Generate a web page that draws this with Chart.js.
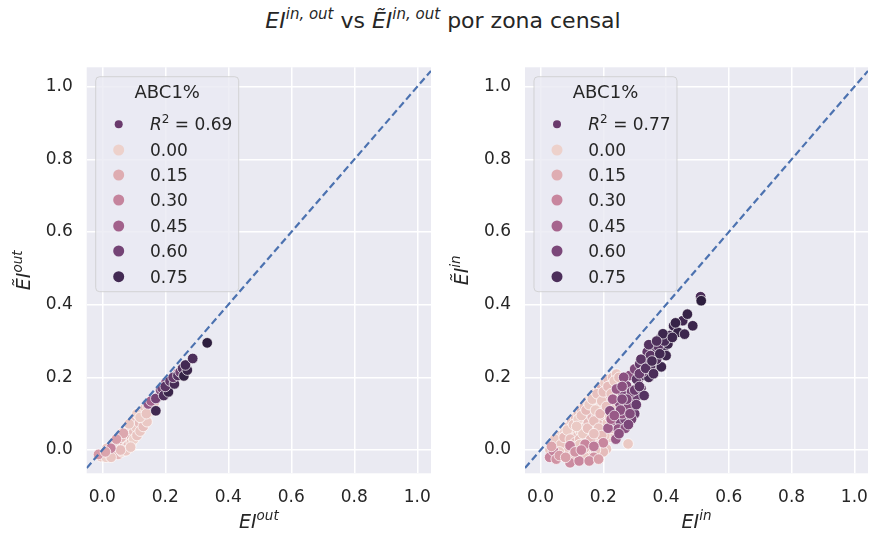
<!DOCTYPE html>
<html>
<head>
<meta charset="utf-8">
<script src="https://cdn.jsdelivr.net/npm/chart.js@4.4.1/dist/chart.umd.min.js"></script>
<style>
  body { margin: 0; background: #fff; width: 874px; height: 540px; position: relative; overflow: hidden;
         font-family: "DejaVu Sans", sans-serif; color: #262626; }
  #title { position: absolute; left: 6px; top: 8px; width: 874px; text-align: center; font-size: 22px; line-height: 26px; }
  #title sup { font-size: 15px; line-height: 0; vertical-align: 9px; }
  canvas { position: absolute; top: 0; }
</style>
</head>
<body>
<div id="title"><i>EI</i><sup><i>in, out</i></sup> vs <i>ẼI</i><sup><i>in, out</i></sup> por zona censal</div>
<canvas id="chartOut" width="437" height="540" style="left:0"></canvas>
<canvas id="chartIn" width="437" height="540" style="left:437px"></canvas>
<script>
// ---- data: [EI, EI tilde, ABC1 share] ----
const outPoints = [
  [0.098, 0.032, 0.5],
  [-0.005, -0.018, 0.05], [0.005, -0.012, 0.08], [0.012, -0.02, 0.03], [0.02, -0.008, 0.1], [0.025, 0.0, 0.06],
  [0.03, -0.015, 0.02], [0.035, 0.01, 0.07], [0.04, -0.005, 0.04], [0.045, 0.02, 0.09], [0.05, 0.005, 0.03],
  [0.05, -0.012, 0.11], [0.055, 0.03, 0.05], [0.06, 0.015, 0.08], [0.062, -0.005, 0.02], [0.068, 0.04, 0.06],
  [0.07, 0.022, 0.1], [0.072, 0.005, 0.04], [0.078, 0.05, 0.07], [0.08, 0.03, 0.03], [0.082, 0.012, 0.09],
  [0.088, 0.06, 0.05], [0.09, 0.04, 0.12], [0.092, 0.02, 0.06], [0.095, 0.072, 0.04], [0.1, 0.05, 0.08],
  [0.1, 0.03, 0.02], [0.105, 0.085, 0.1], [0.108, 0.062, 0.05], [0.11, 0.04, 0.07], [0.115, 0.095, 0.03],
  [0.118, 0.075, 0.09], [0.12, 0.052, 0.06], [0.125, 0.105, 0.11], [0.128, 0.085, 0.04], [0.13, 0.065, 0.08],
  [0.135, 0.115, 0.06], [0.138, 0.095, 0.12], [0.142, 0.078, 0.05], [0.145, 0.12, 0.09], [0.15, 0.105, 0.07],
  [0.155, 0.125, 0.1], [0.16, 0.112, 0.13], [0.165, 0.13, 0.08], [0.04, 0.025, 0.04], [0.065, 0.048, 0.1],
  [0.085, 0.072, 0.06], [0.11, 0.1, 0.03], [0.015, 0.005, 0.07], [0.075, -0.002, 0.05], [0.058, 0.0, 0.09],
  [0.028, -0.02, 0.06], [0.09, 0.008, 0.05], [0.12, 0.09, 0.04], [0.14, 0.1, 0.07], [0.06, 0.035, 0.11],
  [0.027, 0.005, 0.3], [-0.012, -0.012, 0.22], [0.067, 0.046, 0.17], [0.01, -0.005, 0.18], [0.045, 0.03, 0.2],
  [0.146, 0.127, 0.5], [0.155, 0.135, 0.45], [0.17, 0.142, 0.6], [0.185, 0.165, 0.55], [0.202, 0.185, 0.52],
  [0.19, 0.17, 0.6], [0.24, 0.212, 0.35], [0.25, 0.22, 0.4],
  [0.17, 0.108, 0.76], [0.195, 0.15, 0.72], [0.21, 0.16, 0.78], [0.2, 0.175, 0.68], [0.215, 0.19, 0.66],
  [0.229, 0.182, 0.74], [0.225, 0.2, 0.65], [0.24, 0.205, 0.7], [0.247, 0.215, 0.62], [0.255, 0.225, 0.7],
  [0.259, 0.204, 0.8], [0.27, 0.22, 0.78], [0.264, 0.234, 0.75], [0.287, 0.252, 0.72], [0.333, 0.295, 0.82]
];

const inPoints = [
  [0.152, 0.044, 0.5], [0.184, 0.021, 0.55], [0.163, 0.003, 0.5], [0.19, 0.035, 0.45], [0.14, 0.02, 0.48],
  [0.03, 0.0, 0.06], [0.04, 0.015, 0.1], [0.05, -0.01, 0.04], [0.055, 0.025, 0.08], [0.06, 0.005, 0.12],
  [0.065, 0.04, 0.05], [0.07, -0.015, 0.09], [0.072, 0.02, 0.03], [0.078, 0.05, 0.07], [0.08, 0.0, 0.11],
  [0.085, 0.032, 0.04], [0.09, 0.065, 0.08], [0.092, 0.012, 0.06], [0.095, -0.02, 0.1], [0.1, 0.045, 0.02],
  [0.1, 0.078, 0.07], [0.105, 0.025, 0.12], [0.11, 0.06, 0.05], [0.112, 0.09, 0.09], [0.115, 0.0, 0.03],
  [0.118, 0.038, 0.08], [0.12, 0.1, 0.06], [0.122, 0.072, 0.11], [0.125, -0.015, 0.07], [0.128, 0.05, 0.04],
  [0.13, 0.112, 0.09], [0.132, 0.085, 0.02], [0.135, 0.02, 0.1], [0.14, 0.06, 0.06], [0.14, 0.12, 0.08],
  [0.145, 0.095, 0.12], [0.148, 0.035, 0.05], [0.15, 0.135, 0.07], [0.152, 0.075, 0.1], [0.155, 0.005, 0.04],
  [0.158, 0.11, 0.09], [0.16, 0.05, 0.06], [0.162, 0.145, 0.03], [0.165, 0.09, 0.11], [0.168, 0.025, 0.08],
  [0.17, 0.125, 0.05], [0.172, 0.155, 0.1], [0.175, 0.065, 0.07], [0.178, 0.1, 0.13], [0.18, 0.04, 0.04],
  [0.182, 0.14, 0.09], [0.185, 0.165, 0.06], [0.188, 0.08, 0.1], [0.19, 0.118, 0.03], [0.192, 0.01, 0.08],
  [0.195, 0.175, 0.12], [0.198, 0.15, 0.05], [0.2, 0.055, 0.09], [0.2, 0.095, 0.06], [0.205, 0.13, 0.1],
  [0.205, 0.185, 0.04], [0.21, 0.003, 0.07], [0.21, 0.165, 0.11], [0.213, 0.075, 0.05], [0.215, 0.195, 0.08],
  [0.218, 0.11, 0.06], [0.22, 0.145, 0.1], [0.221, 0.035, 0.03], [0.225, 0.18, 0.07], [0.23, 0.2, 0.09],
  [0.232, 0.125, 0.05], [0.235, 0.16, 0.11], [0.242, 0.209, 0.06], [0.242, 0.154, 0.08], [0.248, 0.19, 0.04],
  [0.25, 0.175, 0.1], [0.279, 0.017, 0.05], [0.16, -0.02, 0.08], [0.185, -0.01, 0.05], [0.2, -0.005, 0.1],
  [0.14, -0.018, 0.06], [0.06, 0.03, 0.09], [0.08, 0.04, 0.03],
  [0.045, 0.03, 0.05], [0.065, 0.015, 0.07], [0.075, 0.035, 0.1], [0.085, 0.055, 0.04], [0.095, 0.03, 0.08],
  [0.105, 0.07, 0.06], [0.11, 0.02, 0.1], [0.12, 0.085, 0.03], [0.125, 0.03, 0.09], [0.13, 0.095, 0.07],
  [0.135, 0.045, 0.05], [0.145, 0.11, 0.1], [0.15, 0.06, 0.08], [0.155, 0.125, 0.04], [0.16, 0.03, 0.11],
  [0.165, 0.14, 0.06], [0.17, 0.08, 0.09], [0.175, 0.11, 0.05], [0.18, 0.155, 0.08], [0.185, 0.06, 0.07],
  [0.19, 0.1, 0.12], [0.195, 0.135, 0.06], [0.2, 0.16, 0.09], [0.205, 0.04, 0.05], [0.21, 0.12, 0.08],
  [0.215, 0.175, 0.1], [0.22, 0.09, 0.04], [0.225, 0.155, 0.07], [0.228, 0.06, 0.1], [0.235, 0.19, 0.05],
  [0.238, 0.1, 0.08], [0.245, 0.135, 0.06], [0.25, 0.2, 0.09], [0.252, 0.16, 0.07], [0.115, 0.065, 0.05],
  [0.09, 0.0, 0.07], [0.1, 0.01, 0.04], [0.14, 0.005, 0.09], [0.175, 0.0, 0.06], [0.195, 0.04, 0.1],
  [0.17, 0.045, 0.08], [0.06, -0.005, 0.05], [0.105, -0.012, 0.09], [0.125, 0.015, 0.05],
  [0.029, -0.02, 0.3], [0.041, -0.002, 0.32], [0.05, -0.025, 0.25], [0.06, -0.015, 0.22], [0.094, 0.012, 0.33],
  [0.094, -0.035, 0.28], [0.123, -0.03, 0.3], [0.08, -0.02, 0.2], [0.11, -0.005, 0.25], [0.142, 0.016, 0.3],
  [0.17, -0.02, 0.25], [0.035, 0.01, 0.18], [0.2, 0.02, 0.3], [0.13, 0.0, 0.3], [0.17, 0.01, 0.35],
  [0.155, -0.03, 0.27], [0.185, -0.025, 0.2],
  [0.231, 0.081, 0.5], [0.221, 0.108, 0.55], [0.253, 0.081, 0.58], [0.247, 0.058, 0.52], [0.269, 0.085, 0.6],
  [0.253, 0.127, 0.55], [0.263, 0.154, 0.6], [0.242, 0.168, 0.5], [0.274, 0.177, 0.58], [0.284, 0.205, 0.55],
  [0.3, 0.223, 0.6], [0.293, 0.136, 0.62], [0.306, 0.149, 0.65], [0.23, 0.14, 0.48], [0.26, 0.1, 0.52],
  [0.28, 0.12, 0.57], [0.24, 0.03, 0.5], [0.215, 0.06, 0.47], [0.27, 0.06, 0.55], [0.29, 0.16, 0.6],
  [0.31, 0.19, 0.62], [0.225, 0.085, 0.45], [0.265, 0.2, 0.55], [0.3, 0.1, 0.65], [0.29, 0.085, 0.62],
  [0.255, 0.11, 0.55], [0.275, 0.14, 0.6], [0.285, 0.1, 0.58], [0.26, 0.175, 0.55], [0.3, 0.165, 0.65],
  [0.25, 0.045, 0.55], [0.235, 0.095, 0.5], [0.28, 0.07, 0.6], [0.26, 0.14, 0.58], [0.305, 0.125, 0.66],
  [0.306, 0.195, 0.7], [0.332, 0.205, 0.75], [0.316, 0.237, 0.68], [0.337, 0.246, 0.72], [0.358, 0.255, 0.75],
  [0.364, 0.229, 0.78], [0.385, 0.229, 0.8], [0.364, 0.278, 0.72], [0.392, 0.273, 0.78], [0.38, 0.306, 0.75],
  [0.406, 0.292, 0.8], [0.411, 0.315, 0.78], [0.424, 0.342, 0.8], [0.438, 0.324, 0.82], [0.459, 0.319, 0.8],
  [0.453, 0.356, 0.78], [0.468, 0.374, 0.82], [0.485, 0.342, 0.8], [0.51, 0.422, 0.75], [0.512, 0.411, 0.85],
  [0.34, 0.27, 0.68], [0.35, 0.23, 0.74], [0.32, 0.17, 0.7], [0.33, 0.15, 0.72], [0.345, 0.2, 0.76],
  [0.37, 0.25, 0.74], [0.4, 0.26, 0.8], [0.375, 0.285, 0.7], [0.395, 0.3, 0.76], [0.325, 0.215, 0.65],
  [0.35, 0.26, 0.7], [0.315, 0.21, 0.66], [0.32, 0.25, 0.7], [0.335, 0.225, 0.72], [0.355, 0.245, 0.76],
  [0.36, 0.21, 0.75], [0.345, 0.29, 0.72], [0.38, 0.265, 0.78], [0.39, 0.32, 0.8], [0.42, 0.31, 0.8],
  [0.43, 0.35, 0.82], [0.37, 0.3, 0.74], [0.315, 0.175, 0.7]
];

const tickValues = [0, 0.2, 0.4, 0.6, 0.8, 1.0];
const hueLevels = [0.0, 0.15, 0.30, 0.45, 0.60, 0.75];
const r2Values = [0.69, 0.77];

// seaborn's default sequential cubehelix (light -> dark)
function cubehelix(t) {
  t = Math.min(1, Math.max(0, t));
  const x = 0.85 - 0.7 * t;
  const a = 0.8 * x * (1 - x) / 2;
  const phi = 2 * Math.PI * 0.4 * x;
  const c = Math.cos(phi), s = Math.sin(phi);
  const ch = v => Math.round(255 * Math.min(1, Math.max(0, v)));
  const r = x + a * (-0.14861 * c + 1.78277 * s);
  const g = x + a * (-0.29227 * c - 0.90649 * s);
  const b = x + a * (1.97294 * c);
  return `rgb(${ch(r)},${ch(g)},${ch(b)})`;
}

const XMIN = -0.0495, XMAX = 1.0435, YMIN = -0.064, YMAX = 1.0534;
const TEXT = '#262626';

function mathText(ctx, segs, x, y, align) {
  let w = 0;
  segs.forEach(s => { ctx.font = s[1]; w += ctx.measureText(s[0]).width; });
  let cx = align === 'center' ? x - w / 2 : x;
  segs.forEach(s => {
    ctx.font = s[1];
    ctx.fillText(s[0], cx, y + (s[2] || 0));
    cx += ctx.measureText(s[0]).width;
  });
}

function makeChart(id, points, r2, supTxt, yAxisW, padRight, yTitleX) {
  const hmin = Math.min(...points.map(p => p[2]));
  const hmax = Math.max(...points.map(p => p[2]));
  const hueColor = v => cubehelix((v - hmin) / (hmax - hmin));

  const decor = {
    id: 'decor',
    beforeDraw(chart) {
      const { ctx, chartArea: a } = chart;
      ctx.save();
      ctx.fillStyle = '#eaeaf2';
      ctx.fillRect(a.left, a.top, a.width, a.height);
      ctx.restore();
    },
    afterDraw(chart) {
      const { ctx, chartArea: a } = chart;
      ctx.save();
      ctx.fillStyle = TEXT;
      ctx.textBaseline = 'alphabetic';
      // axis titles
      const it = 'italic 19px "DejaVu Sans"', itS = 'italic 13.5px "DejaVu Sans"';
      mathText(ctx, [['EI', it], [supTxt, itS, -8]], (a.left + a.right) / 2, 528, 'center');
      ctx.translate(yTitleX, (a.top + a.bottom) / 2);
      ctx.rotate(-Math.PI / 2);
      mathText(ctx, [['ẼI', it], [supTxt, itS, -8]], 0, 0, 'center');
      ctx.restore();

      // legend box
      ctx.save();
      const bx = a.left + 9, by = a.top + 9.4, bw = 143, bh = 215;
      ctx.beginPath();
      ctx.roundRect(bx, by, bw, bh, 4);
      ctx.fillStyle = 'rgba(234,234,242,0.8)';
      ctx.fill();
      ctx.strokeStyle = 'rgba(204,204,204,0.8)';
      ctx.lineWidth = 1;
      ctx.stroke();
      ctx.fillStyle = TEXT;
      ctx.textAlign = 'center';
      ctx.font = '18px "DejaVu Sans"';
      ctx.fillText('ABC1%', bx + bw / 2, a.top + 24.4 + 6.5);
      ctx.textAlign = 'left';
      const mx = a.left + 32, tx = a.left + 63.3;
      const rows = [57, 82.7, 107.7, 132.7, 158.7, 183.7, 209.4].map(r => a.top + r);
      // R^2 entry
      ctx.beginPath();
      ctx.arc(mx, rows[0], 4, 0, 2 * Math.PI);
      ctx.fillStyle = '#6a3a6c';
      ctx.fill();
      ctx.fillStyle = TEXT;
      mathText(ctx, [['R', 'italic 17px "DejaVu Sans"'], ['2', '12px "DejaVu Sans"', -7],
                     [' = ' + r2.toFixed(2), '17px "DejaVu Sans"']], tx, rows[0] + 6, 'left');
      hueLevels.forEach((lv, i) => {
        ctx.beginPath();
        ctx.arc(mx, rows[i + 1], 5.5, 0, 2 * Math.PI);
        ctx.fillStyle = hueColor(lv);
        ctx.fill();
        ctx.fillStyle = TEXT;
        ctx.font = '17px "DejaVu Sans"';
        ctx.fillText(lv.toFixed(2), tx, rows[i + 1] + 6.2);
      });
      ctx.restore();
    }
  };

  const axisCommon = {
    type: 'linear',
    border: { display: false },
    grid: { color: '#ffffff', lineWidth: 1.5, drawTicks: false },
    afterBuildTicks: s => { s.ticks = tickValues.map(v => ({ value: v })); },
    ticks: { color: TEXT, font: { family: 'DejaVu Sans', size: 17 }, callback: v => v.toFixed(1) }
  };

  return new Chart(document.getElementById(id), {
    type: 'scatter',
    data: {
      datasets: [
        {
          data: points.map(p => ({ x: p[0], y: p[1] })),
          pointRadius: 5.3,
          pointBackgroundColor: points.map(p => hueColor(p[2])),
          pointBorderColor: '#ffffff',
          pointBorderWidth: 0.7,
          order: 1
        },
        {
          type: 'line',
          data: [{ x: XMIN, y: XMIN }, { x: XMAX, y: XMAX }],
          borderColor: '#4c72b0',
          borderWidth: 2.2,
          borderDash: [7, 3.6],
          pointRadius: 0,
          order: 0
        }
      ]
    },
    options: {
      responsive: false,
      animation: false,
      events: [],
      layout: { padding: { top: 67.3, right: padRight, left: 0, bottom: 0 } },
      plugins: { legend: { display: false }, tooltip: { enabled: false } },
      scales: {
        x: { ...axisCommon, min: XMIN, max: XMAX,
             ticks: { ...axisCommon.ticks, padding: 14, maxRotation: 0 },
             afterFit: s => { s.height = 66.7; s.paddingLeft = 0; s.paddingRight = 0; } },
        y: { ...axisCommon, min: YMIN, max: YMAX,
             ticks: { ...axisCommon.ticks, padding: 14 },
             afterFit: s => { s.width = yAxisW; s.paddingTop = 0; s.paddingBottom = 0; } }
      }
    },
    plugins: [decor]
  });
}

makeChart('chartOut', outPoints, r2Values[0], 'out', 86.7, 6, 30);
makeChart('chartIn', inPoints, r2Values[1], 'in', 88, 4.7, 31);
</script>
</body>
</html>
